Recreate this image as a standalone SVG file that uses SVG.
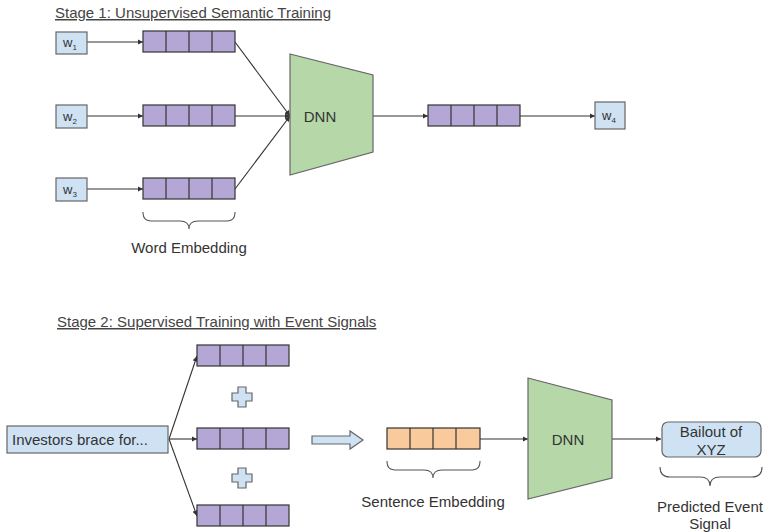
<svg xmlns="http://www.w3.org/2000/svg" width="766" height="532" viewBox="0 0 766 532">
<style>
text{font-family:"Liberation Sans",Arial,sans-serif;fill:#333;}
.t{font-size:15px;}
.title{font-size:15px;text-decoration:underline;fill:#444;}
.wl{font-size:13px;}
.w{fill:#cfe2f3;stroke:#666;stroke-width:1.2;}
.emb{fill:#b4a7d6;stroke:#333;stroke-width:1.2;}
.orng{fill:#f9cb9c;stroke:#333;stroke-width:1.2;}
.cell{stroke:#333;stroke-width:1.2;}
.dnn{fill:#b6d7a8;stroke:#666;stroke-width:1.2;}
.conn{stroke:#333;stroke-width:1.1;fill:none;}
.brace{stroke:#555;stroke-width:1.1;fill:none;}
.hollow{fill:#cfe2f3;stroke:#666;stroke-width:1.2;}
</style>
<defs>
<marker id="ah" viewBox="0 0 10 10" refX="10" refY="5" markerWidth="5" markerHeight="5" orient="auto">
<path d="M0 0L10 5L0 10z" fill="#333"/>
</marker>
<g id="cells"><line class="cell" x1="23" y1="0" x2="23" y2="21"/><line class="cell" x1="46" y1="0" x2="46" y2="21"/><line class="cell" x1="69" y1="0" x2="69" y2="21"/></g>
</defs>
<rect width="766" height="532" fill="#fff"/>

<text class="title" x="55" y="18">Stage 1: Unsupervised Semantic Training</text>
<text class="title" x="57" y="327">Stage 2: Supervised Training with Event Signals</text>

<g id="connectors">
<line class="conn" x1="87" y1="42" x2="143" y2="42" marker-end="url(#ah)"/>
<line class="conn" x1="87" y1="116" x2="143" y2="116" marker-end="url(#ah)"/>
<line class="conn" x1="87" y1="189" x2="143" y2="189" marker-end="url(#ah)"/>
<line class="conn" x1="235" y1="42" x2="290" y2="116" marker-end="url(#ah)"/>
<line class="conn" x1="235" y1="116" x2="290" y2="116" marker-end="url(#ah)"/>
<line class="conn" x1="235" y1="189" x2="290" y2="116" marker-end="url(#ah)"/>
<line class="conn" x1="373" y1="116" x2="428" y2="116" marker-end="url(#ah)"/>
<line class="conn" x1="520" y1="116" x2="595" y2="116" marker-end="url(#ah)"/>
<line class="conn" x1="169" y1="439" x2="197" y2="356" marker-end="url(#ah)"/>
<line class="conn" x1="169" y1="439" x2="197" y2="439" marker-end="url(#ah)"/>
<line class="conn" x1="169" y1="439" x2="197" y2="516" marker-end="url(#ah)"/>
<line class="conn" x1="480" y1="439" x2="528" y2="439" marker-end="url(#ah)"/>
<line class="conn" x1="612" y1="439" x2="661" y2="439" marker-end="url(#ah)"/>
</g>

<g id="w1"><rect class="w" x="56" y="32" width="31" height="22"/><text class="wl" x="63" y="47">w<tspan font-size="8" dy="3">1</tspan></text></g>
<g id="w2"><rect class="w" x="56" y="105" width="31" height="23"/><text class="wl" x="63" y="121">w<tspan font-size="8" dy="3">2</tspan></text></g>
<g id="w3"><rect class="w" x="56" y="178" width="31" height="23"/><text class="wl" x="63" y="194">w<tspan font-size="8" dy="3">3</tspan></text></g>

<g id="emb1"><rect class="emb" x="143" y="31" width="92" height="21"/><use href="#cells" x="143" y="31"/></g>
<g id="emb2"><rect class="emb" x="143" y="105" width="92" height="21"/><use href="#cells" x="143" y="105"/></g>
<g id="emb3"><rect class="emb" x="143" y="178" width="92" height="21"/><use href="#cells" x="143" y="178"/></g>

<g id="word-embedding-label">
<path class="brace" d="M143 212C143 219 146 221 153 221L180 221C186 221 189 223 189 229C189 223 192 221 198 221L225 221C232 221 235 219 235 212"/>
<text class="t" x="189" y="253" text-anchor="middle">Word Embedding</text>
</g>

<g id="dnn1"><polygon class="dnn" points="290,54 373,75 373,152 290,175"/><text class="t" x="320" y="122" text-anchor="middle">DNN</text></g>

<g id="emb-out"><rect class="emb" x="428" y="105" width="92" height="21"/><use href="#cells" x="428" y="105"/></g>

<g id="w4"><rect class="w" x="595" y="102" width="30" height="27"/><text class="wl" x="602" y="120">w<tspan font-size="8" dy="3">4</tspan></text></g>

<g id="sentence"><rect class="w" x="7" y="426" width="161" height="27"/><text class="t" x="12" y="445">Investors brace for...</text></g>

<g id="s2emb1"><rect class="emb" x="197" y="345" width="92" height="21"/><use href="#cells" x="197" y="345"/></g>
<g id="s2emb2"><rect class="emb" x="197" y="428" width="92" height="21"/><use href="#cells" x="197" y="428"/></g>
<g id="s2emb3"><rect class="emb" x="197" y="505" width="92" height="21"/><use href="#cells" x="197" y="505"/></g>

<g id="plus1"><polygon class="hollow" points="238,387 246,387 246,393 252,393 252,401 246,401 246,407 238,407 238,401 232,401 232,393 238,393"/></g>
<g id="plus2"><polygon class="hollow" points="238,468 246,468 246,474 252,474 252,482 246,482 246,488 238,488 238,482 232,482 232,474 238,474"/></g>

<g id="hollow-arrow"><polygon class="hollow" points="312,436 350,436 350,431 363,440 350,449 350,444 312,444"/></g>

<g id="sent-emb"><rect class="orng" x="387" y="428" width="93" height="21"/><use href="#cells" x="387" y="428"/>
<path class="brace" d="M387 461C387 468 390 470 397 470L424 470C430 470 433 472 433 478C433 472 436 470 442 470L470 470C477 470 480 468 480 461"/>
<text class="t" x="433" y="507" text-anchor="middle">Sentence Embedding</text>
</g>

<g id="dnn2"><polygon class="dnn" points="528,378 612,400 612,478 528,499"/><text class="t" x="568" y="445" text-anchor="middle">DNN</text></g>

<g id="bailout"><rect class="w" x="662" y="422" width="99" height="35" rx="6"/><text class="t" x="711" y="437" text-anchor="middle">Bailout of</text><text class="t" x="711" y="455" text-anchor="middle">XYZ</text>
<path class="brace" d="M660 467C660 474 663 477 670 477L700 477C706 477 710 479 710 486C710 479 714 477 720 477L752 477C759 477 762 474 762 467"/>
<text class="t" x="710" y="512" text-anchor="middle">Predicted Event</text>
<text class="t" x="710" y="529" text-anchor="middle">Signal</text>
</g>
</svg>
